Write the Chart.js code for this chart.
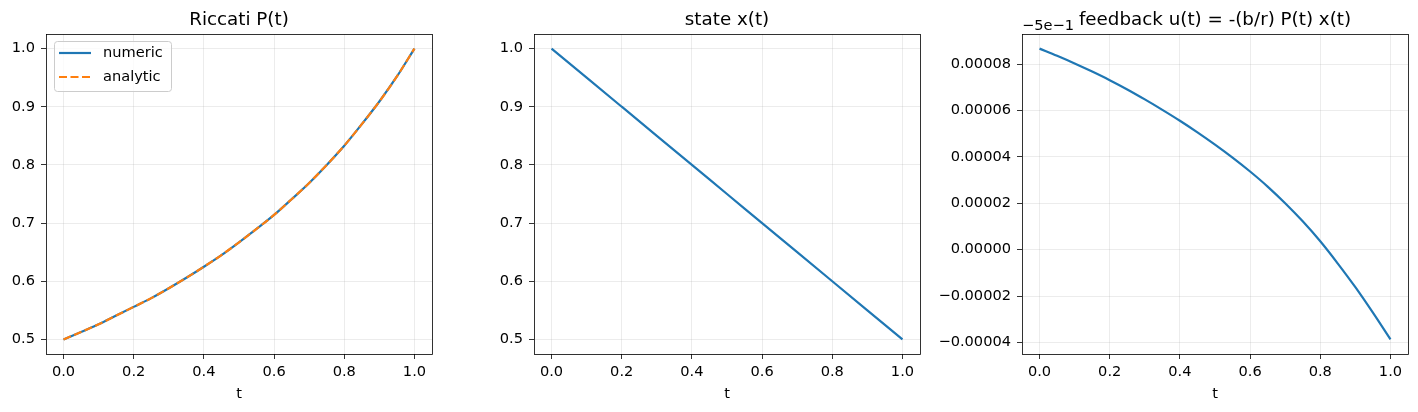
<!DOCTYPE html>
<html>
<head>
<meta charset="utf-8">
<script src="https://cdn.jsdelivr.net/npm/chart.js@4.4.1/dist/chart.umd.min.js"></script>
<style>
  html, body { margin: 0; padding: 0; background: #fff; }
  #fig { position: relative; width: 1418px; height: 412px; overflow: hidden; }
  #fig canvas { position: absolute; top: 0; }
</style>
</head>
<body>
<div id="fig">
  <canvas id="c1"></canvas>
  <canvas id="c2"></canvas>
  <canvas id="c3"></canvas>
</div>
<script>
// values
const tGrid = [0, 0.05, 0.1, 0.15, 0.2, 0.25, 0.3, 0.35, 0.4, 0.45, 0.5,
               0.55, 0.6, 0.65, 0.7, 0.75, 0.8, 0.85, 0.9, 0.95, 1.0];
const pNumeric = [0.500, 0.513, 0.526, 0.541, 0.556, 0.571, 0.588, 0.606, 0.625, 0.645, 0.667,
                  0.690, 0.714, 0.741, 0.769, 0.800, 0.833, 0.870, 0.909, 0.952, 1.000];
const pAnalytic = [0.500, 0.513, 0.526, 0.541, 0.556, 0.571, 0.588, 0.606, 0.625, 0.645, 0.667,
                   0.690, 0.714, 0.741, 0.769, 0.800, 0.833, 0.870, 0.909, 0.952, 1.000];

const tState = [0, 0.1, 0.2, 0.3, 0.4, 0.5, 0.6, 0.7, 0.8, 0.9, 1.0];
const xState = [1.00, 0.95, 0.90, 0.85, 0.80, 0.75, 0.70, 0.65, 0.60, 0.55, 0.50];

// u(t) shown relative to the axis offset -5e-1
const uBase = -0.5;
const uOffset = [8.67e-5, 8.36e-5, 8.03e-5, 7.68e-5, 7.31e-5, 6.91e-5, 6.48e-5, 6.03e-5, 5.56e-5, 5.06e-5, 4.53e-5,
                 3.97e-5, 3.37e-5, 2.72e-5, 2.00e-5, 1.22e-5, 0.36e-5, -0.60e-5, -1.62e-5, -2.72e-5, -3.87e-5];

const tTicks = [0, 0.2, 0.4, 0.6, 0.8, 1.0];
const pTicks = [0.5, 0.6, 0.7, 0.8, 0.9, 1.0];
const uTicks = [-4e-5, -2e-5, 0, 2e-5, 4e-5, 6e-5, 8e-5];

const BLUE = '#1f77b4';
const ORANGE = '#ff7f0e';
const FONT = 'DejaVu Sans';
const TICK_PX = 14.6, TITLE_PX = 18.3;
const Y_W = 90, PAD_R = 10, AX_W = 386;

function pts(xs, ys) {
  return xs.map((x, i) => ({ x: x, y: ys[i] }));
}

function minus(s) {
  return s.replace('-', '\u2212');
}

function offsetLabel(v) {
  // -0.5 -> "−5e−1"
  const e = Math.floor(Math.log10(Math.abs(v)));
  return minus(String(v / Math.pow(10, e))) + 'e' + minus(String(e));
}

// frame + title + extras drawn on top of the plot
const framePlugin = {
  id: 'frame',
  afterDraw(chart, args, opts) {
    const ctx = chart.ctx;
    const a = chart.chartArea;
    ctx.save();
    ctx.strokeStyle = '#000';
    ctx.lineWidth = 0.8;
    ctx.strokeRect(Math.round(a.left) + 0.5, Math.round(a.top) + 0.5,
                   Math.round(a.right - a.left), Math.round(a.bottom - a.top));
    ctx.fillStyle = '#000';
    ctx.font = TITLE_PX + 'px "' + FONT + '"';
    ctx.textAlign = 'center';
    ctx.textBaseline = 'alphabetic';
    ctx.fillText(opts.title, (a.left + a.right) / 2, 25);
    if (opts.offsetText) {
      ctx.font = TICK_PX + 'px "' + FONT + '"';
      ctx.textAlign = 'left';
      ctx.fillText(opts.offsetText, a.left, 30);
    }
    if (opts.legend) {
      const x0 = a.left + 8, y0 = a.top + 7, w = 117, h = 50;
      ctx.beginPath();
      ctx.roundRect(x0 + 0.5, y0 + 0.5, w, h, 3);
      ctx.fillStyle = 'rgba(255,255,255,0.8)';
      ctx.fill();
      ctx.strokeStyle = '#cccccc';
      ctx.lineWidth = 1;
      ctx.stroke();
      opts.legend.forEach((item, i) => {
        const y = y0 + 12 + i * 24;
        ctx.beginPath();
        ctx.setLineDash(item.dash || []);
        ctx.strokeStyle = item.color;
        ctx.lineWidth = 2.2;
        ctx.moveTo(x0 + 5, y);
        ctx.lineTo(x0 + 37, y);
        ctx.stroke();
        ctx.setLineDash([]);
        ctx.fillStyle = '#000';
        ctx.font = TICK_PX + 'px "' + FONT + '"';
        ctx.textAlign = 'left';
        ctx.textBaseline = 'middle';
        ctx.fillText(item.label, x0 + 49, y);
      });
    }
    ctx.restore();
  }
};

function makeChart(id, axLeft, datasets, yMin, yMax, yTicks, yFmt, frameOpts) {
  const canvas = document.getElementById(id);
  const w = Y_W + AX_W + PAD_R;
  canvas.width = w;
  canvas.height = 412;
  canvas.style.left = (axLeft - Y_W) + 'px';
  canvas.style.width = w + 'px';
  canvas.style.height = '412px';
  const gridOpts = {
    color: 'rgba(176,176,176,0.3)',
    lineWidth: 0.8,
    tickColor: '#000',
    tickWidth: 0.8,
    tickLength: 5
  };
  return new Chart(canvas, {
    type: 'line',
    data: { datasets: datasets },
    options: {
      responsive: false,
      animation: false,
      devicePixelRatio: 1,
      layout: { padding: { top: 34, right: PAD_R, bottom: 0, left: 0 } },
      plugins: {
        legend: { display: false },
        tooltip: { enabled: false },
        frame: frameOpts
      },
      elements: { point: { radius: 0 } },
      scales: {
        x: {
          type: 'linear',
          min: -0.05,
          max: 1.05,
          afterBuildTicks: s => { s.ticks = tTicks.map(v => ({ value: v })); },
          afterFit: s => { s.height = 58; },
          grid: gridOpts,
          border: { display: false },
          ticks: {
            padding: 4,
            maxRotation: 0,
            color: '#000',
            font: { family: FONT, size: TICK_PX },
            callback: v => v.toFixed(1)
          },
          title: {
            display: true,
            text: 't',
            color: '#000',
            font: { family: FONT, size: TICK_PX },
            padding: { top: 0, bottom: 9 }
          }
        },
        y: {
          type: 'linear',
          min: yMin,
          max: yMax,
          afterBuildTicks: s => { s.ticks = yTicks.map(v => ({ value: v })); },
          afterFit: s => { s.width = Y_W; },
          grid: gridOpts,
          border: { display: false },
          ticks: {
            padding: 6,
            color: '#000',
            font: { family: FONT, size: TICK_PX },
            callback: yFmt
          }
        }
      }
    },
    plugins: [framePlugin]
  });
}

const lineStyle = { borderWidth: 2.2, pointRadius: 0, fill: false, cubicInterpolationMode: 'monotone' };

makeChart('c1', 46, [
  Object.assign({ label: 'numeric', data: pts(tGrid, pNumeric), borderColor: BLUE, order: 1 }, lineStyle),
  Object.assign({ label: 'analytic', data: pts(tGrid, pAnalytic), borderColor: ORANGE,
                  borderDash: [8, 3.5], order: 0 }, lineStyle)
], 0.475, 1.025, pTicks, v => v.toFixed(1), {
  title: 'Riccati P(t)',
  legend: [
    { label: 'numeric', color: BLUE },
    { label: 'analytic', color: ORANGE, dash: [8, 3.5] }
  ]
});

makeChart('c2', 534, [
  Object.assign({ label: 'x', data: pts(tState, xState), borderColor: BLUE }, lineStyle)
], 0.475, 1.025, pTicks, v => v.toFixed(1), { title: 'state x(t)' });

makeChart('c3', 1022, [
  Object.assign({ label: 'u', data: pts(tGrid, uOffset), borderColor: BLUE }, lineStyle)
], -4.5e-5, 9.3e-5, uTicks, v => minus(v.toFixed(5)), {
  title: 'feedback u(t) = -(b/r) P(t) x(t)',
  offsetText: offsetLabel(uBase)
});
</script>
</body>
</html>
